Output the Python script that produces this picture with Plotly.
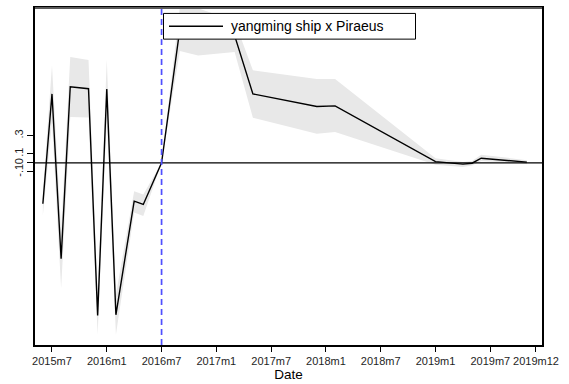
import plotly.graph_objects as go

# Monthly event-study estimates with 95% confidence bounds
months = ["2015m6", "2015m7", "2015m8", "2015m9", "2015m11", "2015m12",
          "2016m1", "2016m2", "2016m4", "2016m5", "2016m7", "2016m9",
          "2016m11", "2017m3", "2017m5", "2017m12", "2018m2", "2019m1",
          "2019m4", "2019m5", "2019m6", "2019m10", "2019m11"]
coef = [-0.449, 0.758, -1.054, 0.837, 0.815, -1.677,
        0.812, -1.671, -0.421, -0.457, 0.0, 1.47,
        1.44, 1.40, 0.758, 0.620, 0.627, 0.014,
        -0.014, -0.004, 0.051, 0.022, 0.008]
ci_low = [-0.58, 0.45, -1.38, 0.503, 0.50, -1.89,
          0.49, -1.89, -0.547, -0.584, 0.0, 1.23,
          1.18, 1.22, 0.497, 0.32, 0.34, -0.02,
          -0.045, -0.03, 0.02, 0.0, -0.014]
ci_high = [-0.32, 1.07, -0.73, 1.163, 1.13, -1.46,
           1.138, -1.45, -0.312, -0.348, 0.0, 1.71,
           1.70, 1.56, 1.018, 0.921, 0.921, 0.05,
           0.01, 0.02, 0.09, 0.045, 0.03]

tick_labels = ["2015m7", "2016m1", "2016m7", "2017m1", "2017m7", "2018m1",
               "2018m7", "2019m1", "2019m7", "2019m12"]
y_tick_vals = [-0.1, 0.0, 0.1, 0.3]
y_tick_text = ["-.1", "0", ".1", ".3"]
event_month = "2016m7"
series_name = "yangming ship x Piraeus"


def month_index(label):
    year, mon = label.split("m")
    return (int(year) - 2015) * 12 + int(mon) - 1


x = [month_index(m) for m in months]
x_ticks = [month_index(m) for m in tick_labels]
x_event = month_index(event_month)

FONT = "Arial, Liberation Sans, Helvetica, sans-serif"
W, H = 569, 384
L, R, T, B = 35, 27, 6, 37
pw, ph = W - L - R, H - T - B


def px_x(p):
    return (p - L) / pw


def px_y(p):
    return (H - B - p) / ph


fig = go.Figure()

# Confidence band
fig.add_trace(go.Scatter(
    x=x + x[::-1], y=ci_high + ci_low[::-1],
    fill="toself", fillcolor="rgb(232,232,232)",
    line=dict(width=0), mode="lines", hoverinfo="skip", showlegend=False))

# Point estimates
fig.add_trace(go.Scatter(
    x=x, y=coef, mode="lines", name=series_name,
    line=dict(color="black", width=1.4), showlegend=False))

shapes = [
    # zero reference line
    dict(type="line", xref="paper", yref="y", x0=0, x1=1, y0=0, y1=0,
         line=dict(color="black", width=1.1), layer="above"),
    # event date
    dict(type="line", xref="x", yref="paper", x0=x_event, x1=x_event, y0=0, y1=1,
         line=dict(color="rgb(80,80,255)", width=1.7, dash="6px,4px"), layer="above"),
    # top frame
    dict(type="line", xref="paper", yref="paper", x0=0, x1=1, y0=1, y1=1,
         line=dict(color="rgb(90,90,90)", width=2), layer="above"),
    # legend box
    dict(type="rect", xref="paper", yref="paper",
         x0=px_x(163.5), x1=px_x(415.5), y0=px_y(37.5), y1=px_y(11.5),
         fillcolor="white", line=dict(color="black", width=1), layer="above"),
    dict(type="line", xref="paper", yref="paper",
         x0=px_x(169), x1=px_x(223), y0=px_y(24.5), y1=px_y(24.5),
         line=dict(color="black", width=1.4), layer="above"),
]

fig.update_layout(
    width=W, height=H,
    margin=dict(l=L, r=R, t=T, b=B, pad=0),
    paper_bgcolor="white", plot_bgcolor="white",
    font=dict(family=FONT, color="black", size=11),
    shapes=shapes,
    annotations=[dict(xref="paper", yref="paper", x=px_x(229), y=px_y(24.5),
                      xanchor="left", yanchor="middle", showarrow=False,
                      text=series_name, font=dict(size=14, color="black"))],
    xaxis=dict(
        range=[month_index("2015m5") + 0.14, month_index("2019m12") + 0.66],
        tickmode="array", tickvals=x_ticks, ticktext=tick_labels,
        tickangle=0,
        ticks="outside", ticklen=5, tickcolor="black", tickwidth=1,
        showline=True, linecolor="black", linewidth=1.5, mirror=True,
        showgrid=False, zeroline=False,
        tickfont=dict(size=11, color="rgb(30,30,30)"),
        title=dict(text="Date", font=dict(size=13.5), standoff=2),
    ),
    yaxis=dict(
        range=[-2.003, 1.703],
        tickmode="array", tickvals=y_tick_vals, ticktext=y_tick_text,
        tickangle=-90,
        ticks="outside", ticklen=6, tickcolor="black", tickwidth=1,
        showline=True, linecolor="black", linewidth=1.5, mirror=True,
        showgrid=False, zeroline=False,
        tickfont=dict(size=11, color="rgb(30,30,30)"),
    ),
)

fig.write_html("out.html")
